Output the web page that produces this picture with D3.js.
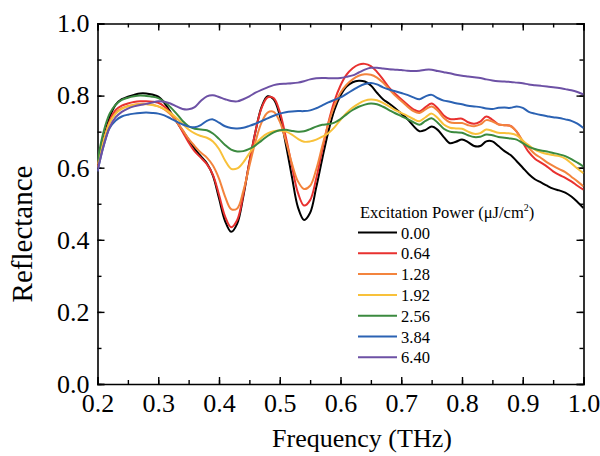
<!DOCTYPE html>
<html>
<head>
<meta charset="utf-8">
<script src="https://cdn.jsdelivr.net/npm/d3@7"></script>
<style>
  body { margin: 0; background: #fff; }
</style>
</head>
<body>
<svg id="chart" width="600" height="456"></svg>
<script>
// ----- Data -----
// frequency grid (THz), 0.20 .. 1.00 in steps of 0.01
let freq = d3.range(81).map(i => +(0.2 + i * 0.01).toFixed(2))

let powers = ['0.00', '0.64', '1.28', '1.92', '2.56', '3.84', '6.40']
let colors = ['#000000', '#e8312f', '#f3843d', '#f8c13a', '#3b8a3f', '#2b62b3', '#6d51a5']

let r000 = [0.600,0.680,0.740,0.775,0.790,0.797,0.802,0.806,0.806,0.803,
            0.797,0.780,0.755,0.728,0.703,0.678,0.652,0.632,0.612,0.578,
            0.515,0.452,0.422,0.445,0.520,0.615,0.700,0.768,0.798,0.790,
            0.745,0.665,0.575,0.490,0.455,0.475,0.545,0.625,0.700,0.760,
            0.800,0.825,0.837,0.841,0.839,0.828,0.808,0.790,0.778,0.765,
            0.750,0.735,0.716,0.701,0.705,0.714,0.705,0.685,0.668,0.672,
            0.678,0.671,0.660,0.660,0.673,0.673,0.660,0.646,0.635,0.618,
            0.600,0.582,0.568,0.559,0.550,0.542,0.537,0.531,0.520,0.505,
            0.488]
let r064 = [0.600,0.675,0.730,0.760,0.772,0.778,0.782,0.784,0.784,0.783,
            0.780,0.770,0.752,0.728,0.700,0.670,0.645,0.628,0.610,0.580,
            0.525,0.465,0.435,0.455,0.525,0.615,0.700,0.765,0.795,0.793,
            0.755,0.685,0.605,0.530,0.495,0.510,0.570,0.650,0.725,0.785,
            0.828,0.858,0.876,0.886,0.888,0.882,0.866,0.845,0.822,0.805,
            0.790,0.775,0.762,0.756,0.768,0.778,0.765,0.745,0.735,0.735,
            0.736,0.726,0.722,0.728,0.742,0.733,0.720,0.718,0.716,0.700,
            0.670,0.643,0.625,0.614,0.603,0.590,0.580,0.572,0.562,0.550,
            0.539]
let r128 = [0.600,0.670,0.725,0.752,0.765,0.771,0.775,0.777,0.777,0.775,
            0.770,0.762,0.748,0.728,0.705,0.680,0.660,0.642,0.628,0.606,
            0.570,0.520,0.485,0.487,0.535,0.605,0.672,0.725,0.753,0.755,
            0.728,0.675,0.612,0.562,0.541,0.550,0.595,0.660,0.722,0.772,
            0.808,0.830,0.845,0.855,0.859,0.858,0.850,0.836,0.818,0.800,
            0.785,0.770,0.757,0.752,0.762,0.770,0.758,0.738,0.726,0.724,
            0.724,0.718,0.715,0.720,0.732,0.728,0.720,0.718,0.715,0.700,
            0.675,0.655,0.638,0.627,0.615,0.605,0.596,0.588,0.575,0.562,
            0.548]
let r192 = [0.610,0.675,0.725,0.750,0.763,0.770,0.774,0.776,0.776,0.774,
            0.770,0.763,0.752,0.738,0.722,0.706,0.695,0.688,0.683,0.673,
            0.652,0.620,0.597,0.598,0.615,0.640,0.665,0.683,0.695,0.701,
            0.703,0.700,0.692,0.680,0.672,0.673,0.678,0.686,0.696,0.712,
            0.733,0.752,0.767,0.778,0.786,0.789,0.787,0.780,0.770,0.760,
            0.752,0.744,0.735,0.729,0.740,0.750,0.738,0.720,0.711,0.709,
            0.708,0.700,0.694,0.696,0.706,0.702,0.697,0.696,0.695,0.690,
            0.675,0.662,0.650,0.643,0.638,0.635,0.632,0.625,0.612,0.598,
            0.585]
let r256 = [0.620,0.700,0.750,0.775,0.788,0.794,0.798,0.800,0.799,0.797,
            0.793,0.783,0.768,0.750,0.730,0.715,0.708,0.706,0.704,0.695,
            0.680,0.663,0.650,0.645,0.646,0.652,0.662,0.675,0.688,0.698,
            0.704,0.705,0.702,0.700,0.701,0.707,0.714,0.719,0.721,0.725,
            0.735,0.748,0.760,0.769,0.775,0.778,0.776,0.769,0.760,0.751,
            0.743,0.735,0.726,0.719,0.730,0.737,0.725,0.708,0.700,0.698,
            0.697,0.690,0.685,0.686,0.692,0.690,0.685,0.683,0.681,0.678,
            0.668,0.658,0.652,0.648,0.645,0.641,0.637,0.632,0.624,0.614,
            0.603]
let r384 = [0.590,0.660,0.710,0.731,0.742,0.747,0.750,0.752,0.753,0.752,
            0.750,0.745,0.737,0.728,0.720,0.714,0.712,0.718,0.730,0.734,
            0.725,0.715,0.710,0.709,0.711,0.716,0.722,0.729,0.737,0.744,
            0.750,0.754,0.756,0.757,0.757,0.759,0.765,0.773,0.781,0.788,
            0.795,0.805,0.815,0.825,0.832,0.835,0.831,0.823,0.817,0.812,
            0.807,0.802,0.795,0.790,0.798,0.802,0.793,0.786,0.783,0.779,
            0.776,0.772,0.770,0.768,0.764,0.763,0.766,0.767,0.766,0.770,
            0.766,0.755,0.750,0.746,0.743,0.740,0.738,0.734,0.730,0.722,
            0.710]
let r640 = [0.590,0.660,0.712,0.740,0.755,0.764,0.770,0.774,0.777,0.781,
            0.784,0.783,0.778,0.770,0.763,0.762,0.768,0.785,0.798,0.801,
            0.796,0.790,0.785,0.784,0.790,0.798,0.808,0.816,0.823,0.829,
            0.832,0.833,0.834,0.836,0.840,0.845,0.848,0.849,0.848,0.848,
            0.849,0.852,0.856,0.864,0.872,0.877,0.877,0.875,0.873,0.872,
            0.871,0.869,0.868,0.869,0.872,0.872,0.868,0.865,0.862,0.858,
            0.855,0.853,0.851,0.849,0.845,0.842,0.840,0.839,0.838,0.836,
            0.834,0.831,0.829,0.827,0.825,0.823,0.821,0.818,0.815,0.810,
            0.803]

let seriesValues = [r000, r064, r128, r192, r256, r384, r640]

let xTicks = [0.2, 0.3, 0.4, 0.5, 0.6, 0.7, 0.8, 0.9, 1.0]
let yTicks = [0.0, 0.2, 0.4, 0.6, 0.8, 1.0]

// ----- SVG -----
let serif = 'Liberation Serif, Tinos, Nimbus Roman, Times New Roman, DejaVu Serif, serif'
let svg = d3.select('#chart').attr('font-family', serif)
let plotLeft = 97.5, plotRight = 583.5, plotTop = 23.5, plotBottom = 384

let x = d3.scaleLinear().domain([0.2, 1.0]).range([plotLeft, plotRight])
let y = d3.scaleLinear().domain([0, 1]).range([plotBottom, plotTop])

// axes: major ticks inward with labels, minor ticks inward
let fmt = d3.format('.1f')

function minorTicks(scale, step) {
  let d = scale.domain()
  return d3.range(Math.round((d[1] - d[0]) / step) + 1).map(i => d[0] + i * step)
}

function styleAxis(g) {
  g.attr('font-family', serif).attr('font-size', 26)
}

svg.append('g')
   .attr('transform', 'translate(0,' + plotBottom + ')')
   .call(d3.axisBottom(x).tickValues(xTicks).tickFormat(fmt).tickSize(-7).tickPadding(10))
   .call(styleAxis)
svg.append('g')
   .attr('transform', 'translate(0,' + plotBottom + ')')
   .call(d3.axisBottom(x).tickValues(minorTicks(x, 0.05)).tickFormat('').tickSize(-4))
   .call(g => g.select('.domain').remove())

svg.append('g')
   .attr('transform', 'translate(0,' + plotTop + ')')
   .call(d3.axisTop(x).tickValues(xTicks).tickFormat('').tickSize(-7))
svg.append('g')
   .attr('transform', 'translate(0,' + plotTop + ')')
   .call(d3.axisTop(x).tickValues(minorTicks(x, 0.05)).tickFormat('').tickSize(-4))
   .call(g => g.select('.domain').remove())

svg.append('g')
   .attr('transform', 'translate(' + plotLeft + ',0)')
   .call(d3.axisLeft(y).tickValues(yTicks).tickFormat(fmt).tickSize(-7).tickPadding(8))
   .call(styleAxis)
svg.append('g')
   .attr('transform', 'translate(' + plotLeft + ',0)')
   .call(d3.axisLeft(y).tickValues(minorTicks(y, 0.1)).tickFormat('').tickSize(-4))
   .call(g => g.select('.domain').remove())

svg.append('g')
   .attr('transform', 'translate(' + plotRight + ',0)')
   .call(d3.axisRight(y).tickValues(yTicks).tickFormat('').tickSize(-7))
svg.append('g')
   .attr('transform', 'translate(' + plotRight + ',0)')
   .call(d3.axisRight(y).tickValues(minorTicks(y, 0.1)).tickFormat('').tickSize(-4))
   .call(g => g.select('.domain').remove())

svg.selectAll('.domain').attr('stroke-width', 1.6)
svg.selectAll('.tick line').attr('stroke-width', 1.4)

// axis titles
svg.append('text')
   .attr('x', 362)
   .attr('y', 447)
   .attr('text-anchor', 'middle')
   .attr('font-size', 26)
   .text('Frequency (THz)')

svg.append('text')
   .attr('transform', 'translate(32,234) rotate(-90)')
   .attr('text-anchor', 'middle')
   .attr('font-size', 29)
   .text('Reflectance')

// ----- Lines -----
svg.append('clipPath').attr('id', 'plot-clip')
   .append('rect')
   .attr('x', plotLeft).attr('y', plotTop)
   .attr('width', plotRight - plotLeft).attr('height', plotBottom - plotTop)

let line = d3.line()
             .x((d, i) => x(freq[i]))
             .y(d => y(d))
             .curve(d3.curveCatmullRom.alpha(0.5))

svg.append('g')
   .attr('clip-path', 'url(#plot-clip)')
   .selectAll('path')
   .data(seriesValues)
   .enter()
   .append('path')
   .attr('d', d => line(d))
   .attr('fill', 'none')
   .attr('stroke', (d, i) => colors[i])
   .attr('stroke-width', 2)
   .attr('stroke-linejoin', 'round')

// ----- Legend -----
let legendX = 358, legendY = 238.5, legendStep = 20.8

let legendTitle = svg.append('text')
   .attr('x', 360)
   .attr('y', 218)
   .attr('font-size', 16.5)
legendTitle.append('tspan').text('Excitation Power (\u03bcJ/cm')
legendTitle.append('tspan').attr('font-size', 10).attr('dy', -7).text('2')
legendTitle.append('tspan').attr('dy', 7).text(')')

let entries = svg.selectAll('.legend')
   .data(powers)
   .enter()
   .append('g')
   .attr('class', 'legend')
   .attr('transform', (d, i) => 'translate(0,' + (legendY + i * legendStep) + ')')

entries.append('line')
   .attr('x1', legendX).attr('x2', legendX + 39)
   .attr('y1', -6).attr('y2', -6)
   .attr('stroke', (d, i) => colors[i])
   .attr('stroke-width', 2)

entries.append('text')
   .attr('x', legendX + 43)
   .attr('y', 0)
   .attr('font-size', 16.5)
   .text(d => d)
</script>
</body>
</html>
